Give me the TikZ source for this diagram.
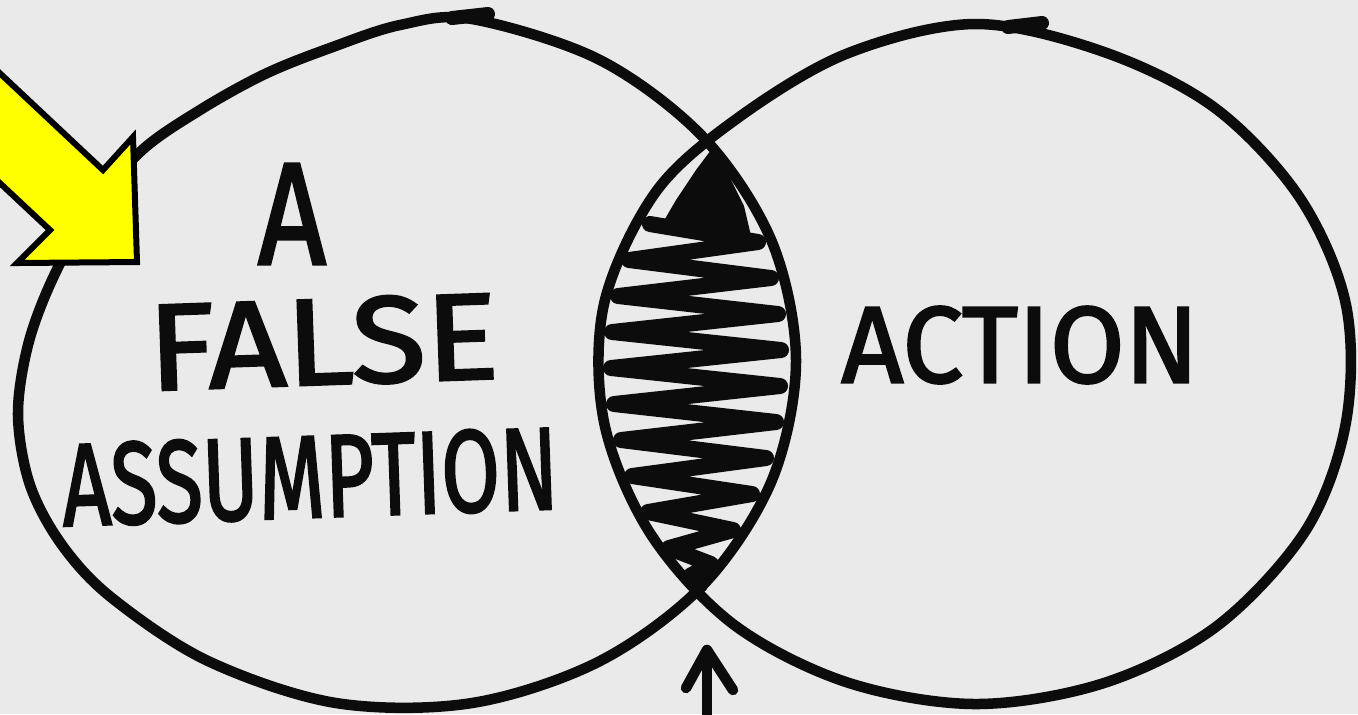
\documentclass[tikz,border=0pt]{standalone}
\usepackage{fontspec}
\setsansfont{Fira Sans}
\newfontfamily\handfont{Fira Sans}[FakeBold=2.2]
\usepackage{graphicx}
\definecolor{paper}{RGB}{234,234,234}
\definecolor{ink}{RGB}{12,12,12}
\definecolor{hilite}{RGB}{255,255,0}
\tikzset{
  outline/.style={draw=ink, line width=0.105cm, line cap=round, line join=round},
  penmark/.style={draw=ink, line width=0.14cm, line cap=round},
  scribble/.style={draw=ink, line width=0.16cm, line cap=round, line join=round},
  lettering/.style={text=ink, inner sep=0pt, font=\handfont},
  pointer/.style={fill=hilite, draw=black, line width=0.06cm, line join=miter},
}
\begin{document}
\begin{tikzpicture}[x=0.01cm,y=-0.01cm]
\useasboundingbox (0,0) rectangle (1358,714);
\fill[paper] (0,0) rectangle (1358,714);
\clip (0,0) rectangle (1358,714);

% left circle
\draw[outline] plot[smooth cycle, tension=0.55] coordinates {
 (796,361) (772,242) (704,138) (600,60) (472,19) (400,25) (330,48) (265,74)
 (200,110) (140,152) (88,215) (52,280) (28,345) (18,415) (30,485) (62,545)
 (112,598) (208,661) (336,703) (472,703) (600,661) (704,584) (772,480)};
% right circle
\draw[outline] plot[smooth cycle, tension=0.55] coordinates {
 (975,24) (1104,52) (1215,108) (1300,198) (1346,305) (1346,422) (1306,530)
 (1217,626) (1104,683) (975,704) (846,682) (733,624) (650,533) (604,422)
 (604,304) (655,193) (735,120) (846,54)};
% pen marks at the tops
\draw[penmark] (452,18) -- (488,14);
\draw[penmark] (1008,27) -- (1042,23);

% scribble in the overlap
\fill[ink] (711,150) -- (696,170) -- (676,200) -- (662,224) -- (752,240) -- (744,206) -- (727,172) -- cycle;
\draw[scribble] (650,224) -- (758,242) -- (629,260) -- (771,278) -- (618,296) -- (778,314)
 -- (612,332) -- (781,350) -- (611,368) -- (780,386) -- (614,404) -- (776,422)
 -- (621,440) -- (766,458) -- (632,476) -- (752,494) -- (648,512) -- (733,530)
 -- (669,548) -- (711,564) -- (690,576) -- (700,585);

% labels
\node[lettering] (a) at (292,214) {\resizebox{0.68cm}{1.0cm}{A}};
\node[lettering, rotate=2] (false) at (323,342) {\resizebox{3.5cm}{0.86cm}{FALSE}};
\node[lettering, rotate=2] (assumption) at (310,477) {\resizebox{4.96cm}{0.82cm}{ASSUMPTION}};
\node[lettering] (action) at (1020,345) {\resizebox{3.57cm}{0.76cm}{ACTION}};

% small arrow under the overlap
\coordinate (uptip) at (707,650);
\coordinate (upbase) at (707,730);
\coordinate (upleft) at (686,688);
\coordinate (upright) at (733,690);
\draw[outline] (upbase) -- (uptip);
\draw[outline] (upleft) -- (uptip) -- (upright);

% yellow pointer
\draw[pointer] (-60,17) -- (103,170) -- (133,137) -- (137,262) -- (17,263) -- (50,230) -- (-60,127) -- cycle;
\end{tikzpicture}
\end{document}
